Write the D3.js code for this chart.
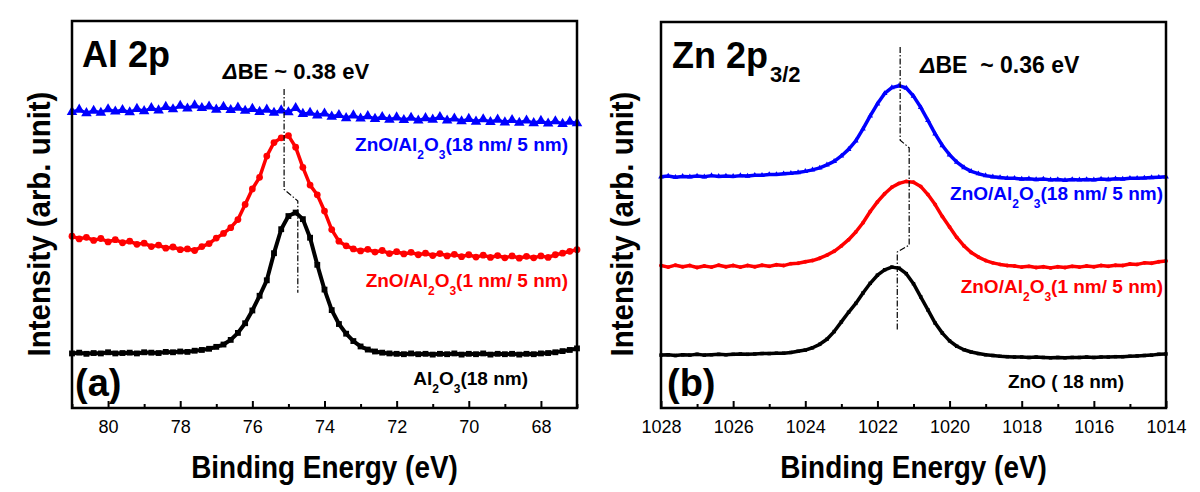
<!DOCTYPE html>
<html><head><meta charset="utf-8">
<script src="https://cdn.jsdelivr.net/npm/d3@7"></script>
<style>
body{margin:0;background:#fff}
svg{display:block}
text{font-family:"Liberation Sans",Arial,Helvetica,sans-serif;white-space:pre}
</style>
</head><body>
<svg id="chart" width="1200" height="492"></svg>
<script>
// ---------------- DATA ----------------
// Panel (a): Al 2p
const energyA = [81.0,80.8,80.6,80.4,80.2,80.0,79.8,79.6,79.4,79.2,79.0,78.8,78.6,78.4,78.2,78.0,77.8,77.6,77.4,77.2,
  77.0,76.8,76.6,76.4,76.2,76.0,75.8,75.6,75.4,75.2,75.0,74.8,74.6,74.4,74.2,74.0,73.8,73.6,73.4,73.2,
  73.0,72.8,72.6,72.4,72.2,72.0,71.8,71.6,71.4,71.2,71.0,70.8,70.6,70.4,70.2,70.0,69.8,69.6,69.4,69.2,
  69.0,68.8,68.6,68.4,68.2,68.0,67.8,67.6,67.4,67.2,67.0];
const al2o3_18 = [14.1,14.3,14.0,14.2,14.1,14.4,14.1,14.2,14.3,14.1,14.4,14.3,14.2,14.5,14.4,14.6,14.5,14.8,15.0,15.3,
  15.8,16.4,17.6,19.4,21.9,25.2,29.0,33.0,40.0,46.2,49.6,50.5,48.8,44.0,37.0,30.6,25.3,21.7,19.2,17.3,
  15.9,15.1,14.6,14.3,14.1,14.0,13.9,14.1,13.9,14.0,13.8,14.0,13.9,14.1,13.8,14.0,13.9,14.1,13.8,14.0,
  13.9,14.0,13.8,14.0,13.9,14.1,14.2,14.4,14.7,15.0,15.4];
const znoAl_1_5_A = [44.4,43.7,44.1,43.3,43.8,42.9,43.5,42.7,43.1,42.3,42.6,41.7,42.1,41.3,41.6,40.9,41.1,40.7,41.7,42.5,
  43.9,45.1,46.6,48.7,52.6,56.6,59.6,65.1,68.6,69.8,70.4,67.4,62.2,57.6,55.1,50.9,46.1,43.1,41.9,41.1,
  40.6,41.0,40.3,40.7,39.9,40.4,39.8,40.2,39.6,40.0,39.4,39.9,39.3,39.7,39.1,39.6,39.0,39.5,38.9,39.4,
  38.8,39.3,38.7,39.2,38.8,39.3,38.9,39.6,40.0,40.5,40.9];
const znoAl_18_5_A = [76.5,77.1,76.2,76.8,76.3,77.2,76.6,77.0,76.4,77.3,76.7,77.5,76.9,77.8,77.2,78.1,77.4,78.2,77.5,77.9,
  77.1,77.8,77.0,77.6,76.8,77.3,76.5,77.1,76.3,76.9,76.4,77.5,76.0,76.3,75.6,76.1,75.3,75.7,74.9,75.6,
  74.8,75.4,74.7,75.2,74.5,75.1,74.4,75.0,74.3,74.9,74.5,75.2,74.3,74.8,74.1,74.7,74.0,74.6,73.9,74.5,
  73.8,74.4,73.7,74.3,73.6,74.2,73.5,74.1,73.4,74.0,73.6];
const shiftLineA = [[75.12,82.4],[75.12,56.5],[74.74,53.5],[74.74,29.8]];
const majorTicksA = [80,78,76,74,72,70,68];
const minorTicksA = [81,79,77,75,73,71,69,67];

// Panel (b): Zn 2p3/2
const energyB = [1028.0,1027.8,1027.6,1027.4,1027.2,1027.0,1026.8,1026.6,1026.4,1026.2,1026.0,1025.8,1025.6,1025.4,1025.2,1025.0,1024.8,1024.6,1024.4,1024.2,
  1024.0,1023.8,1023.6,1023.4,1023.2,1023.0,1022.8,1022.6,1022.4,1022.2,1022.0,1021.8,1021.6,1021.4,1021.2,1021.0,1020.8,1020.6,1020.4,1020.2,
  1020.0,1019.8,1019.6,1019.4,1019.2,1019.0,1018.8,1018.6,1018.4,1018.2,1018.0,1017.8,1017.6,1017.4,1017.2,1017.0,1016.8,1016.6,1016.4,1016.2,
  1016.0,1015.8,1015.6,1015.4,1015.2,1015.0,1014.8,1014.6,1014.4,1014.2,1014.0];
const zno_18 = [13.7,13.8,13.6,13.8,13.7,13.9,13.7,13.8,13.9,13.8,13.9,14.0,13.9,14.0,14.1,14.1,14.2,14.2,14.4,14.7,
  15.0,15.6,16.5,17.8,19.8,22.3,24.8,27.1,29.8,32.3,34.4,35.8,36.5,36.2,34.8,32.2,28.8,25.4,22.0,19.4,
  17.4,16.0,15.1,14.5,14.1,13.8,13.6,13.4,13.3,13.2,13.2,13.1,13.2,13.1,13.0,13.1,13.0,13.1,13.1,13.2,
  13.1,13.2,13.2,13.3,13.3,13.4,13.5,13.6,13.7,13.9,14.0];
const znoAl_1_5_B = [36.9,36.5,37.0,36.6,36.9,36.4,36.8,36.5,37.0,36.6,36.9,36.5,36.9,36.6,37.0,36.7,37.1,36.9,37.4,37.5,
  37.9,38.2,38.8,39.6,40.6,42.0,43.6,45.6,48.0,50.9,53.4,55.5,57.2,58.2,58.7,58.5,57.4,55.3,52.7,49.6,
  46.9,44.2,42.0,40.3,39.1,38.2,37.6,37.2,36.9,36.8,36.5,36.7,36.4,36.6,36.3,36.6,36.4,36.7,36.5,36.8,
  36.6,36.9,36.7,37.0,36.9,37.3,37.2,37.6,37.5,37.9,38.1];
const znoAl_18_5_B = [59.9,60.1,59.8,60.0,59.9,60.1,59.9,60.2,60.0,60.1,60.0,60.2,60.1,60.3,60.3,60.5,60.5,60.7,60.8,61.0,
  61.3,61.7,62.2,63.0,63.9,65.3,67.0,69.2,72.3,75.7,78.8,81.5,83.0,83.5,82.9,80.8,77.9,74.5,71.0,68.0,
  65.6,63.7,62.3,61.3,60.7,60.2,59.9,59.7,59.5,59.5,59.3,59.4,59.2,59.3,59.1,59.2,59.0,59.2,59.1,59.2,
  59.1,59.3,59.2,59.4,59.3,59.5,59.5,59.6,59.7,59.8,59.9];
const shiftLineB = [[1021.37,93.5],[1021.37,69.4],[1021.12,67.4],[1021.12,42.2],[1021.45,40.4],[1021.45,20.2]];
const majorTicksB = [1028,1026,1024,1022,1020,1018,1016,1014];
const minorTicksB = [1027,1025,1023,1021,1019,1017,1015];

// Labels (odd indices are subscripts)
const labelZnOAl18 = ["ZnO/Al","2","O","3","(18 nm/ 5 nm)"];
const labelZnOAl1  = ["ZnO/Al","2","O","3","(1 nm/ 5 nm)"];
const labelAl2O3   = ["Al","2","O","3","(18 nm)"];
const labelZnO     = ["ZnO ( 18 nm)"];

const BLUE = "#0000ff", RED = "#ff0000", BLACK = "#000000";

// ---------------- DRAWING ----------------
const svg = d3.select("#chart");

const panels = [
  { x0:72, x1:577, y0:21, y1:408, domain:[81,67], energy:energyA,
    major:majorTicksA, minor:minorTicksA, shift:shiftLineA,
    series:[
      {values:znoAl_18_5_A, color:BLUE, symbol:d3.symbolTriangle, size:48, lw:3},
      {values:znoAl_1_5_A, color:RED, symbol:d3.symbolCircle, size:36, lw:3.5},
      {values:al2o3_18, color:BLACK, symbol:d3.symbolSquare, size:34, lw:4}
    ]},
  { x0:661, x1:1166, y0:22, y1:408, domain:[1028,1014], energy:energyB,
    major:majorTicksB, minor:minorTicksB, shift:shiftLineB,
    series:[
      {values:znoAl_18_5_B, color:BLUE, symbol:d3.symbolTriangle, size:14, lw:3.5},
      {values:znoAl_1_5_B, color:RED, symbol:d3.symbolCircle, size:12, lw:3.5},
      {values:zno_18, color:BLACK, symbol:d3.symbolSquare, size:12, lw:3.5}
    ]}
];

panels.forEach(p => {
  p.x = d3.scaleLinear().domain(p.domain).range([p.x0, p.x1]);
  p.y = d3.scaleLinear().domain([0,100]).range([p.y1, p.y0]);
  const g = svg.append("g");

  p.series.forEach(s => {
    const pts = p.energy.map((e,i) => [e, s.values[i]]);
    g.append("path").datum(pts)
      .attr("fill","none").attr("stroke",s.color).attr("stroke-width",s.lw)
      .attr("stroke-linejoin","round")
      .attr("d", d3.line().x(d=>p.x(d[0])).y(d=>p.y(d[1])));
    g.append("g").selectAll("path").data(pts).join("path")
      .attr("transform", d => `translate(${p.x(d[0])},${p.y(d[1])})`)
      .attr("d", d3.symbol().type(s.symbol).size(s.size))
      .attr("fill", s.color);
  });

  g.append("path").datum(p.shift)
    .attr("fill","none").attr("stroke","#000").attr("stroke-width",1.2)
    .attr("stroke-dasharray","6,2,1.5,2")
    .attr("d", d3.line().x(d=>p.x(d[0])).y(d=>p.y(d[1])));

  const ax = g.append("g").attr("transform",`translate(0,${p.y1})`)
    .call(d3.axisBottom(p.x).tickValues(p.major).tickSize(-7).tickPadding(12).tickFormat(d3.format("d")));
  ax.select(".domain").remove();
  ax.selectAll("line").attr("stroke","#000").attr("stroke-width",2);
  ax.selectAll("text").attr("font-size",18).attr("fill","#000")
    .style("font-family",'"Liberation Sans",Arial,sans-serif');
  const axm = g.append("g").attr("transform",`translate(0,${p.y1})`)
    .call(d3.axisBottom(p.x).tickValues(p.minor).tickSize(-4).tickFormat(""));
  axm.select(".domain").remove();
  axm.selectAll("line").attr("stroke","#000").attr("stroke-width",2);

  g.append("rect").attr("x",p.x0).attr("y",p.y0)
    .attr("width",p.x1-p.x0).attr("height",p.y1-p.y0)
    .attr("fill","none").attr("stroke","#000").attr("stroke-width",2.5);

  g.append("text").attr("transform",`translate(${(p.x0+p.x1)/2},478) scale(0.9,1)`)
    .attr("text-anchor","middle").attr("font-size",31).attr("font-weight","bold")
    .text("Binding Energy (eV)");
});

function rich(parts, x, y, o) {
  const t = svg.append("text").attr("x",x).attr("y",y)
    .attr("text-anchor",o.anchor||"start").attr("font-size",o.size)
    .attr("font-weight",o.weight||"bold").attr("fill",o.color||"#000");
  let inSub = false;
  parts.forEach((s,i) => {
    const sub = i % 2 === 1;
    const ts = t.append("tspan").text(s);
    if (sub) { ts.attr("font-size",o.subSize).attr("dy",o.subDy); inSub = true; }
    else if (inSub) { ts.attr("dy",-o.subDy); inSub = false; }
  });
  return t;
}

// y labels
[{x:50},{x:633}].forEach(d => {
  svg.append("text").attr("transform",`translate(${d.x},224) rotate(-90) scale(0.92,1)`)
    .attr("text-anchor","middle").attr("font-size",32).attr("font-weight","bold")
    .text("Intensity (arb. unit)");
});

// panel a texts
svg.append("text").attr("x",82).attr("y",67).attr("font-size",36).attr("font-weight","bold").text("Al 2p");
{
  const t = svg.append("text").attr("x",296).attr("y",79).attr("text-anchor","middle")
    .attr("font-size",22).attr("font-weight","bold");
  t.append("tspan").attr("font-style","italic").text("Δ");
  t.append("tspan").text("BE ~ 0.38 eV");
}
const lab = {size:19, subSize:12, subDy:8, anchor:"end"};
rich(labelZnOAl18, 568, 151, {...lab, color:BLUE});
rich(labelZnOAl1, 568, 287, {...lab, color:RED});
rich(labelAl2O3, 528, 385, {...lab, color:BLACK});
svg.append("text").attr("x",75).attr("y",396).attr("font-size",38).attr("font-weight","bold").text("(a)");

// panel b texts
{
  const t = svg.append("text").attr("x",672).attr("y",68).attr("font-size",36).attr("font-weight","bold");
  t.append("tspan").text("Zn 2p");
  t.append("tspan").attr("font-size",22).attr("dy",14).attr("dx",2).text("3/2");
}
{
  const t = svg.append("text").attr("x",920).attr("y",73)
    .attr("font-size",23).attr("font-weight","bold");
  t.append("tspan").attr("font-style","italic").text("Δ");
  t.append("tspan").text("BE  ~ 0.36 eV");
}
rich(labelZnOAl18, 1163, 200, {...lab, color:BLUE});
rich(labelZnOAl1, 1163, 293, {...lab, color:RED});
rich(labelZnO, 1124, 388, {...lab, color:BLACK});
svg.append("text").attr("x",667).attr("y",396).attr("font-size",38).attr("font-weight","bold").text("(b)");
</script>
</body></html>
